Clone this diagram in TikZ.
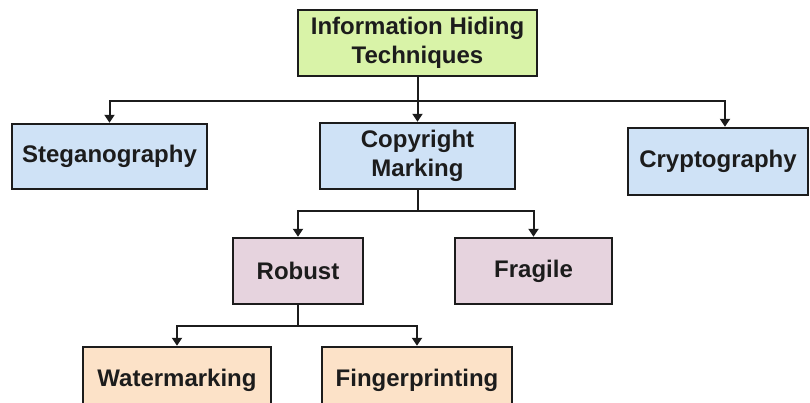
\documentclass[tikz,border=0pt]{standalone}
\usepackage{fontspec}
\setmainfont{Liberation Sans}
\usepackage{xcolor}
\usetikzlibrary{arrows.meta}

\definecolor{topgreen}{HTML}{D9F3A8}
\definecolor{lvlblue}{HTML}{CFE2F6}
\definecolor{lvlpink}{HTML}{E6D3DE}
\definecolor{lvlpeach}{HTML}{FCE2C8}
\definecolor{inkdark}{HTML}{1C1C1C}

\tikzset{
  hbox/.style={draw=inkdark, line width=1.8pt, rectangle, align=center,
    text=inkdark, font=\fontsize{18}{22}\selectfont\bfseries, inner sep=0pt},
  arr/.style={draw=inkdark, line width=1.5pt, -{Triangle[length=6pt,width=7.5pt]}},
  lnk/.style={draw=inkdark, line width=1.5pt}
}

\begin{document}
\begin{tikzpicture}[x=0.75pt,y=0.75pt,yscale=-1,xscale=1]
    \clip (0,0) rectangle (810,403);
    \useasboundingbox (0,0) rectangle (810,403);

    % Root
    \node (hiding) at (417.5,43) [hbox, fill=topgreen, minimum width=179.25pt, minimum height=49.5pt] {Information Hiding\\Techniques};

    % First level
    \node (stego) at (109.5,156.5) [hbox, fill=lvlblue, minimum width=146.25pt, minimum height=48.75pt] {Steganography};
    \node (copyright) at (417.5,156) [hbox, fill=lvlblue, minimum width=146.25pt, minimum height=49.5pt] {Copyright\\Marking};
    \node (crypto) at (718,161.5) [hbox, fill=lvlblue, minimum width=135pt, minimum height=50.25pt] {Cryptography};

    % Second level
    \node (robust) at (298,271) [hbox, fill=lvlpink, minimum width=97.5pt, minimum height=49.5pt] {Robust};
    \node (fragile) at (533.5,271) [hbox, fill=lvlpink, minimum width=117.75pt, minimum height=49.5pt] {Fragile};

    % Third level
    \node (watermark) at (177,380) [hbox, fill=lvlpeach, minimum width=141pt, minimum height=49.5pt] {Watermarking};
    \node (fingerprint) at (417,380) [hbox, fill=lvlpeach, minimum width=142.5pt, minimum height=49.5pt] {Fingerprinting};

    % Connectors
    \draw [lnk] (hiding.south) -- ++(0,24) coordinate (j1);
    \draw [arr] (j1) -| (stego.north);
    \draw [arr] (j1) -- (copyright.north);
    \draw [arr] (j1) -| ([xshift=5.25pt]crypto.north);

    \draw [lnk] (copyright.south) -- ++(0,21) coordinate (j2);
    \draw [arr] (j2) -| (robust.north);
    \draw [arr] (j2) -| (fragile.north);

    \draw [lnk] (robust.south) -- ++(0,21) coordinate (j3);
    \draw [arr] (j3) -| (watermark.north);
    \draw [arr] (j3) -| (fingerprint.north);

\end{tikzpicture}
\end{document}
